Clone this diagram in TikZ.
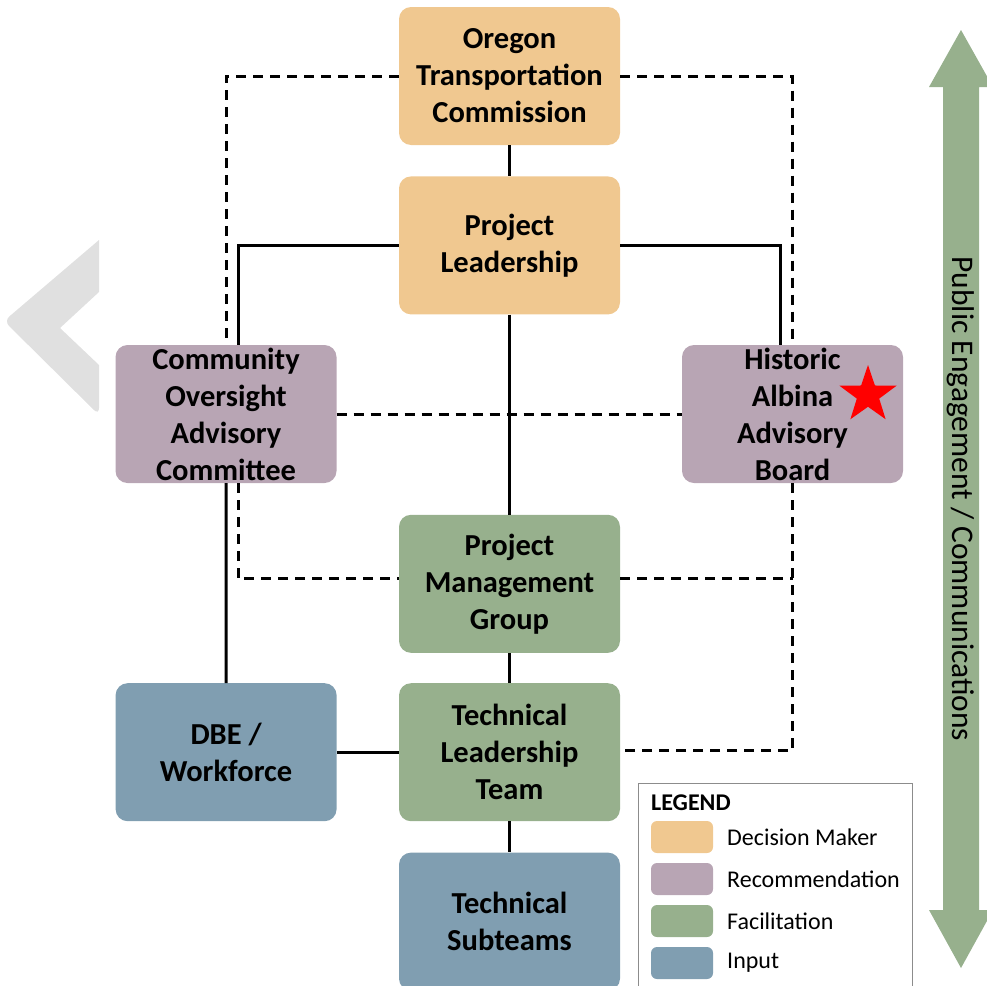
\documentclass[tikz,border=0pt]{standalone}
\usepackage{fontspec}
\setmainfont{Carlito}
\usepackage{tikz}
\usetikzlibrary{shapes,positioning,calc}
\usetikzlibrary{shapes.geometric}

\definecolor{decider}{RGB}{240,200,144}
\definecolor{recomm}{RGB}{184,165,180}
\definecolor{facil}{RGB}{151,176,141}
\definecolor{inputc}{RGB}{128,158,177}

\begin{document}
\begin{tikzpicture}[x=1pt, y=-1pt,
    box/.style={rounded corners=12pt, minimum width=221pt, minimum height=138pt,
        inner sep=0pt, align=center, font=\fontsize{30.5}{37}\selectfont\bfseries},
    link/.style={line width=3pt},
    dashlink/.style={line width=3pt, dash pattern=on 10pt off 7pt},
    swatch/.style={rounded corners=6pt, minimum width=62pt, minimum height=32pt, inner sep=0pt}]
    \useasboundingbox (0,0) rectangle (987,985);
    \clip (0,0) rectangle (987,985);

    % faint chevron on the left
    \fill[black!12, rounded corners=7pt] (99,240) -- (4,321) -- (99,415) [sharp corners] -- (99,365) -- (60,328) -- (99,292) -- cycle;

    % boxes
    \node[box, fill=decider] (otc) at (509.5,76) {Oregon\\Transportation\\Commission};
    \node[box, fill=decider, below=31pt of otc] (pl) {Project\\Leadership};
    \node[box, fill=recomm] (coac) at (226,414) {Community\\Oversight\\Advisory\\Committee};
    \node[box, fill=recomm] (haab) at (792.5,414) {Historic\\Albina\\Advisory\\Board};
    \node[box, fill=facil, below=200pt of pl] (pmg) {Project\\Management\\Group};
    \node[box, fill=facil, below=30pt of pmg] (tlt) {Technical\\Leadership\\Team};
    \node[box, fill=inputc, left=62pt of tlt] (dbe) {DBE /\\Workforce};
    \node[box, fill=inputc, below=31pt of tlt] (ts) {Technical\\Subteams};
    \node[star, star points=5, star point ratio=2.55, fill=red, minimum size=60pt, inner sep=0pt] (hstar) at (868,395) {};

    % solid links
    \draw[link] (otc) -- (pl);
    \draw[link] (pl) -- (pmg);
    \draw[link] (pmg) -- (tlt);
    \draw[link] (tlt) -- (ts);
    \draw[link] (dbe) -- (tlt);
    \draw[link] (coac) -- (dbe);
    \draw[link] (pl.west) -| ([xshift=12pt]coac.north);
    \draw[link] (pl.east) -| ([xshift=-12pt]haab.north);

    % dashed links
    \draw[dashlink] (otc.west) -| (coac.north);
    \draw[dashlink] (otc.east) -| (haab.north);
    \draw[dashlink] (coac) -- (haab);
    \draw[dashlink] ([xshift=12pt]coac.south) |- ([yshift=5pt]pmg.west);
    \draw[dashlink] ([yshift=5pt]pmg.east) -- ([yshift=5pt]pmg.east -| haab.south);
    \draw[dashlink] (haab.south) |- ([yshift=1.5pt]tlt.east);

    % legend
    \draw[black!45, line width=1pt] (638,783) rectangle (912,995);
    \node[anchor=west, inner sep=0pt, font=\fontsize{24}{28}\selectfont\bfseries] (lgtitle) at (651,803) {LEGEND};
    \foreach \clr/\txt [count=\k] in {decider/Decision Maker, recomm/Recommendation, facil/Facilitation, inputc/Input}{
        \node[swatch, fill=\clr] (sw\k) at (682,795+42*\k) {};
        \node[anchor=west, inner sep=0pt, font=\fontsize{24}{28}\selectfont] (lg\k) at (727,795+42*\k) {\txt};
    }

    % engagement arrow
    \fill[facil] (961,30) -- (993,87) -- (979,87) -- (979,910) -- (993,910) -- (961,968)
        -- (929,910) -- (943,910) -- (943,87) -- (929,87) -- cycle;
    \node[rotate=-90, inner sep=0pt, font=\fontsize{31.5}{36}\selectfont] (pubtxt) at (961,499) {Public Engagement / Communications};
\end{tikzpicture}
\end{document}
